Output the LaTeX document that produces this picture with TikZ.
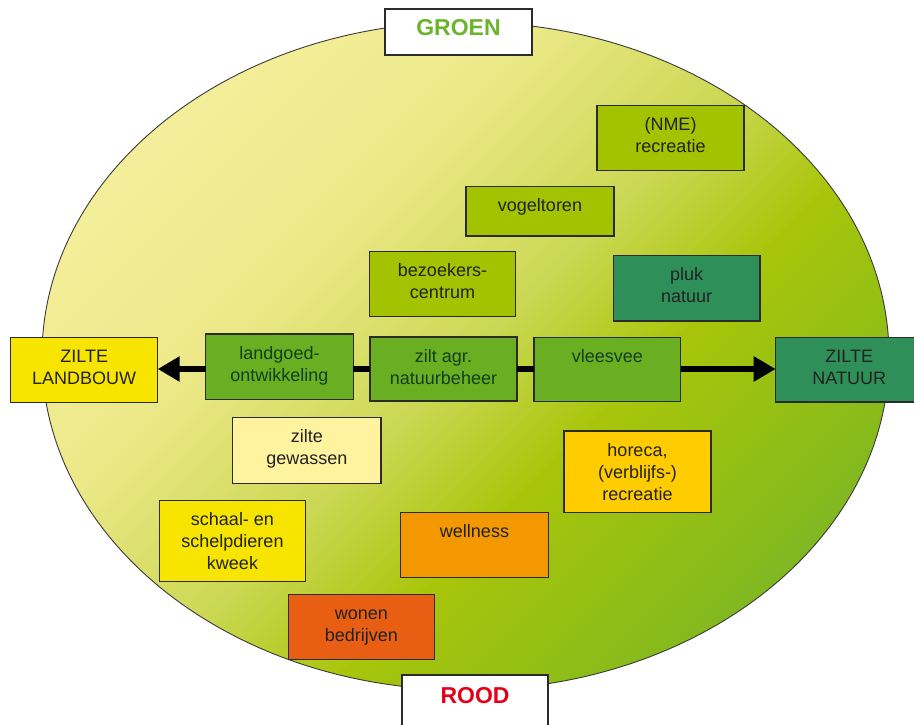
\documentclass[tikz,border=0pt]{standalone}
\usepackage{fontspec}
\setmainfont{Liberation Sans}
\usetikzlibrary{arrows.meta}
\definecolor{g0}{HTML}{F6F0A0}
\definecolor{g1}{HTML}{EDE98A}
\definecolor{g2}{HTML}{CCD854}
\definecolor{g3}{HTML}{A8C50A}
\definecolor{g4}{HTML}{8DBD18}
\definecolor{g5}{HTML}{76B42A}
\definecolor{boxline}{HTML}{2B2B2B}
\definecolor{ellline}{HTML}{3A3A3A}
\definecolor{txt}{HTML}{222222}
\definecolor{dkgreen}{HTML}{123F1E}
\definecolor{limebox}{HTML}{A3C300}
\definecolor{tealbox}{HTML}{2E9058}
\definecolor{greenbox}{HTML}{6AAE22}
\definecolor{yellowbox}{HTML}{F7E500}
\definecolor{paleybox}{HTML}{FFF3A0}
\definecolor{goldbox}{HTML}{FFCC00}
\definecolor{orangebox}{HTML}{F39800}
\definecolor{redorangebox}{HTML}{E85E12}
\definecolor{groentxt}{HTML}{6CB42C}
\definecolor{roodtxt}{HTML}{E3001B}
\newcommand\gmix[4]{\pgfmathtruncatemacro\gp{(\gu-#3)/(#4-#3)*100}\colorlet{gc}{#2!\gp!#1}}
\newcommand\gradcol[1]{%
  \pgfmathsetmacro\gu{#1}%
  \ifdim\gu pt<200pt \colorlet{gc}{g0}%
  \else\ifdim\gu pt<550pt \gmix{g0}{g1}{200}{550}%
  \else\ifdim\gu pt<820pt \gmix{g1}{g2}{550}{820}%
  \else\ifdim\gu pt<1020pt \gmix{g2}{g3}{820}{1020}%
  \else\ifdim\gu pt<1250pt \gmix{g3}{g4}{1020}{1250}%
  \else\ifdim\gu pt<1450pt \gmix{g4}{g5}{1250}{1450}%
  \else \colorlet{gc}{g5}\fi\fi\fi\fi\fi\fi}
\newcommand\bt[4][25]{\parbox[c][#3pt][t]{#2pt}{\centering\rule{0pt}{#1pt}#4\par}}
\tikzset{
  box/.style={draw=boxline, line width=1.3pt, inner sep=0pt, outer sep=0pt,
    text=txt, font=\fontsize{18}{22}\selectfont},
  gbox/.style={box, text=dkgreen},
  conn/.style={line width=6pt, draw=black},
  arr/.style={conn, -{Triangle[length=22pt,width=24pt]}}
}
\begin{document}
\begin{tikzpicture}[x=1pt,y=-1pt]
\useasboundingbox (0,0) rectangle (914,724);
\fill[white] (0,0) rectangle (914,724);
% ellipse with diagonal gradient
\begin{scope}
  \clip (465.5,356) ellipse [x radius=423.5, y radius=334];
  \foreach \u in {0,6,...,1596}{%
    \gradcol{\u+3}%
    \fill[gc] (-200,\u+200) -- (1200,\u-1200) -- (1200,\u+7-1200) -- (-200,\u+7+200) -- cycle;
  }
\end{scope}
\draw[ellline, line width=0.9pt] (465.5,356) ellipse [x radius=423.5, y radius=334];

% title boxes
\node[box, fill=white, font=\fontsize{23}{26}\bfseries\selectfont, text=groentxt] (groen) at (458.5,32) {\bt[26]{147}{46}{GROEN}};
\node[box, fill=white, font=\fontsize{23}{26}\bfseries\selectfont, text=roodtxt] (rood) at (475,710) {\bt[28]{146}{70}{ROOD}};

% boxes
\node[box, fill=limebox] (nme) at (670.5,138) {\bt{147}{65}{(NME)\\recreatie}};
\node[box, fill=limebox] (vogel) at (540,211.3) {\bt{148}{49.5}{vogeltoren}};
\node[box, fill=limebox] (bezoek) at (442.5,284.2) {\bt{146.5}{65}{bezoekers-\\centrum}};
\node[box, fill=tealbox] (pluk) at (686.7,288.3) {\bt{146.7}{65.3}{pluk\\natuur}};
\node[box, fill=yellowbox] (landbouw) at (84.2,369.8) {\bt{147}{65}{ZILTE\\LANDBOUW}};
\node[gbox, fill=greenbox] (landgoed) at (279.5,366.7) {\bt{147.6}{65.3}{landgoed-\\ontwikkeling}};
\node[gbox, fill=greenbox] (zilt) at (443.5,369) {\bt{147}{64}{zilt agr.\\natuurbeheer}};
\node[gbox, fill=greenbox] (vleesvee) at (607.3,369.5) {\bt{146.7}{64.4}{vleesvee}};
\node[box, fill=tealbox] (natuur) at (849.2,369.7) {\bt{147}{64.7}{ZILTE\\NATUUR}};
\node[box, fill=paleybox] (gewassen) at (306.8,450.5) {\bt{148.3}{65.6}{zilte\\gewassen}};
\node[box, fill=goldbox] (horeca) at (637.5,471.7) {\bt{147}{81.3}{horeca,\\(verblijfs-)\\recreatie}};
\node[box, fill=yellowbox] (schaal) at (232.5,541.2) {\bt{146.4}{81}{schaal- en\\schelpdieren\\kweek}};
\node[box, fill=orangebox] (wellness) at (474.5,544.8) {\bt{147.6}{65}{wellness}};
\node[box, fill=redorangebox] (wonen) at (361.3,626.8) {\bt{146}{65}{wonen\\bedrijven}};

% connectors
\draw[arr] (landgoed.west |- zilt.west) -- (landbouw.east |- zilt.west);
\draw[conn] (landgoed.east |- zilt.west) -- (zilt.west);
\draw[conn] (zilt.east) -- (vleesvee.west |- zilt.east);
\draw[arr] (vleesvee.east |- zilt.east) -- (natuur.west |- zilt.east);
\end{tikzpicture}
\end{document}
